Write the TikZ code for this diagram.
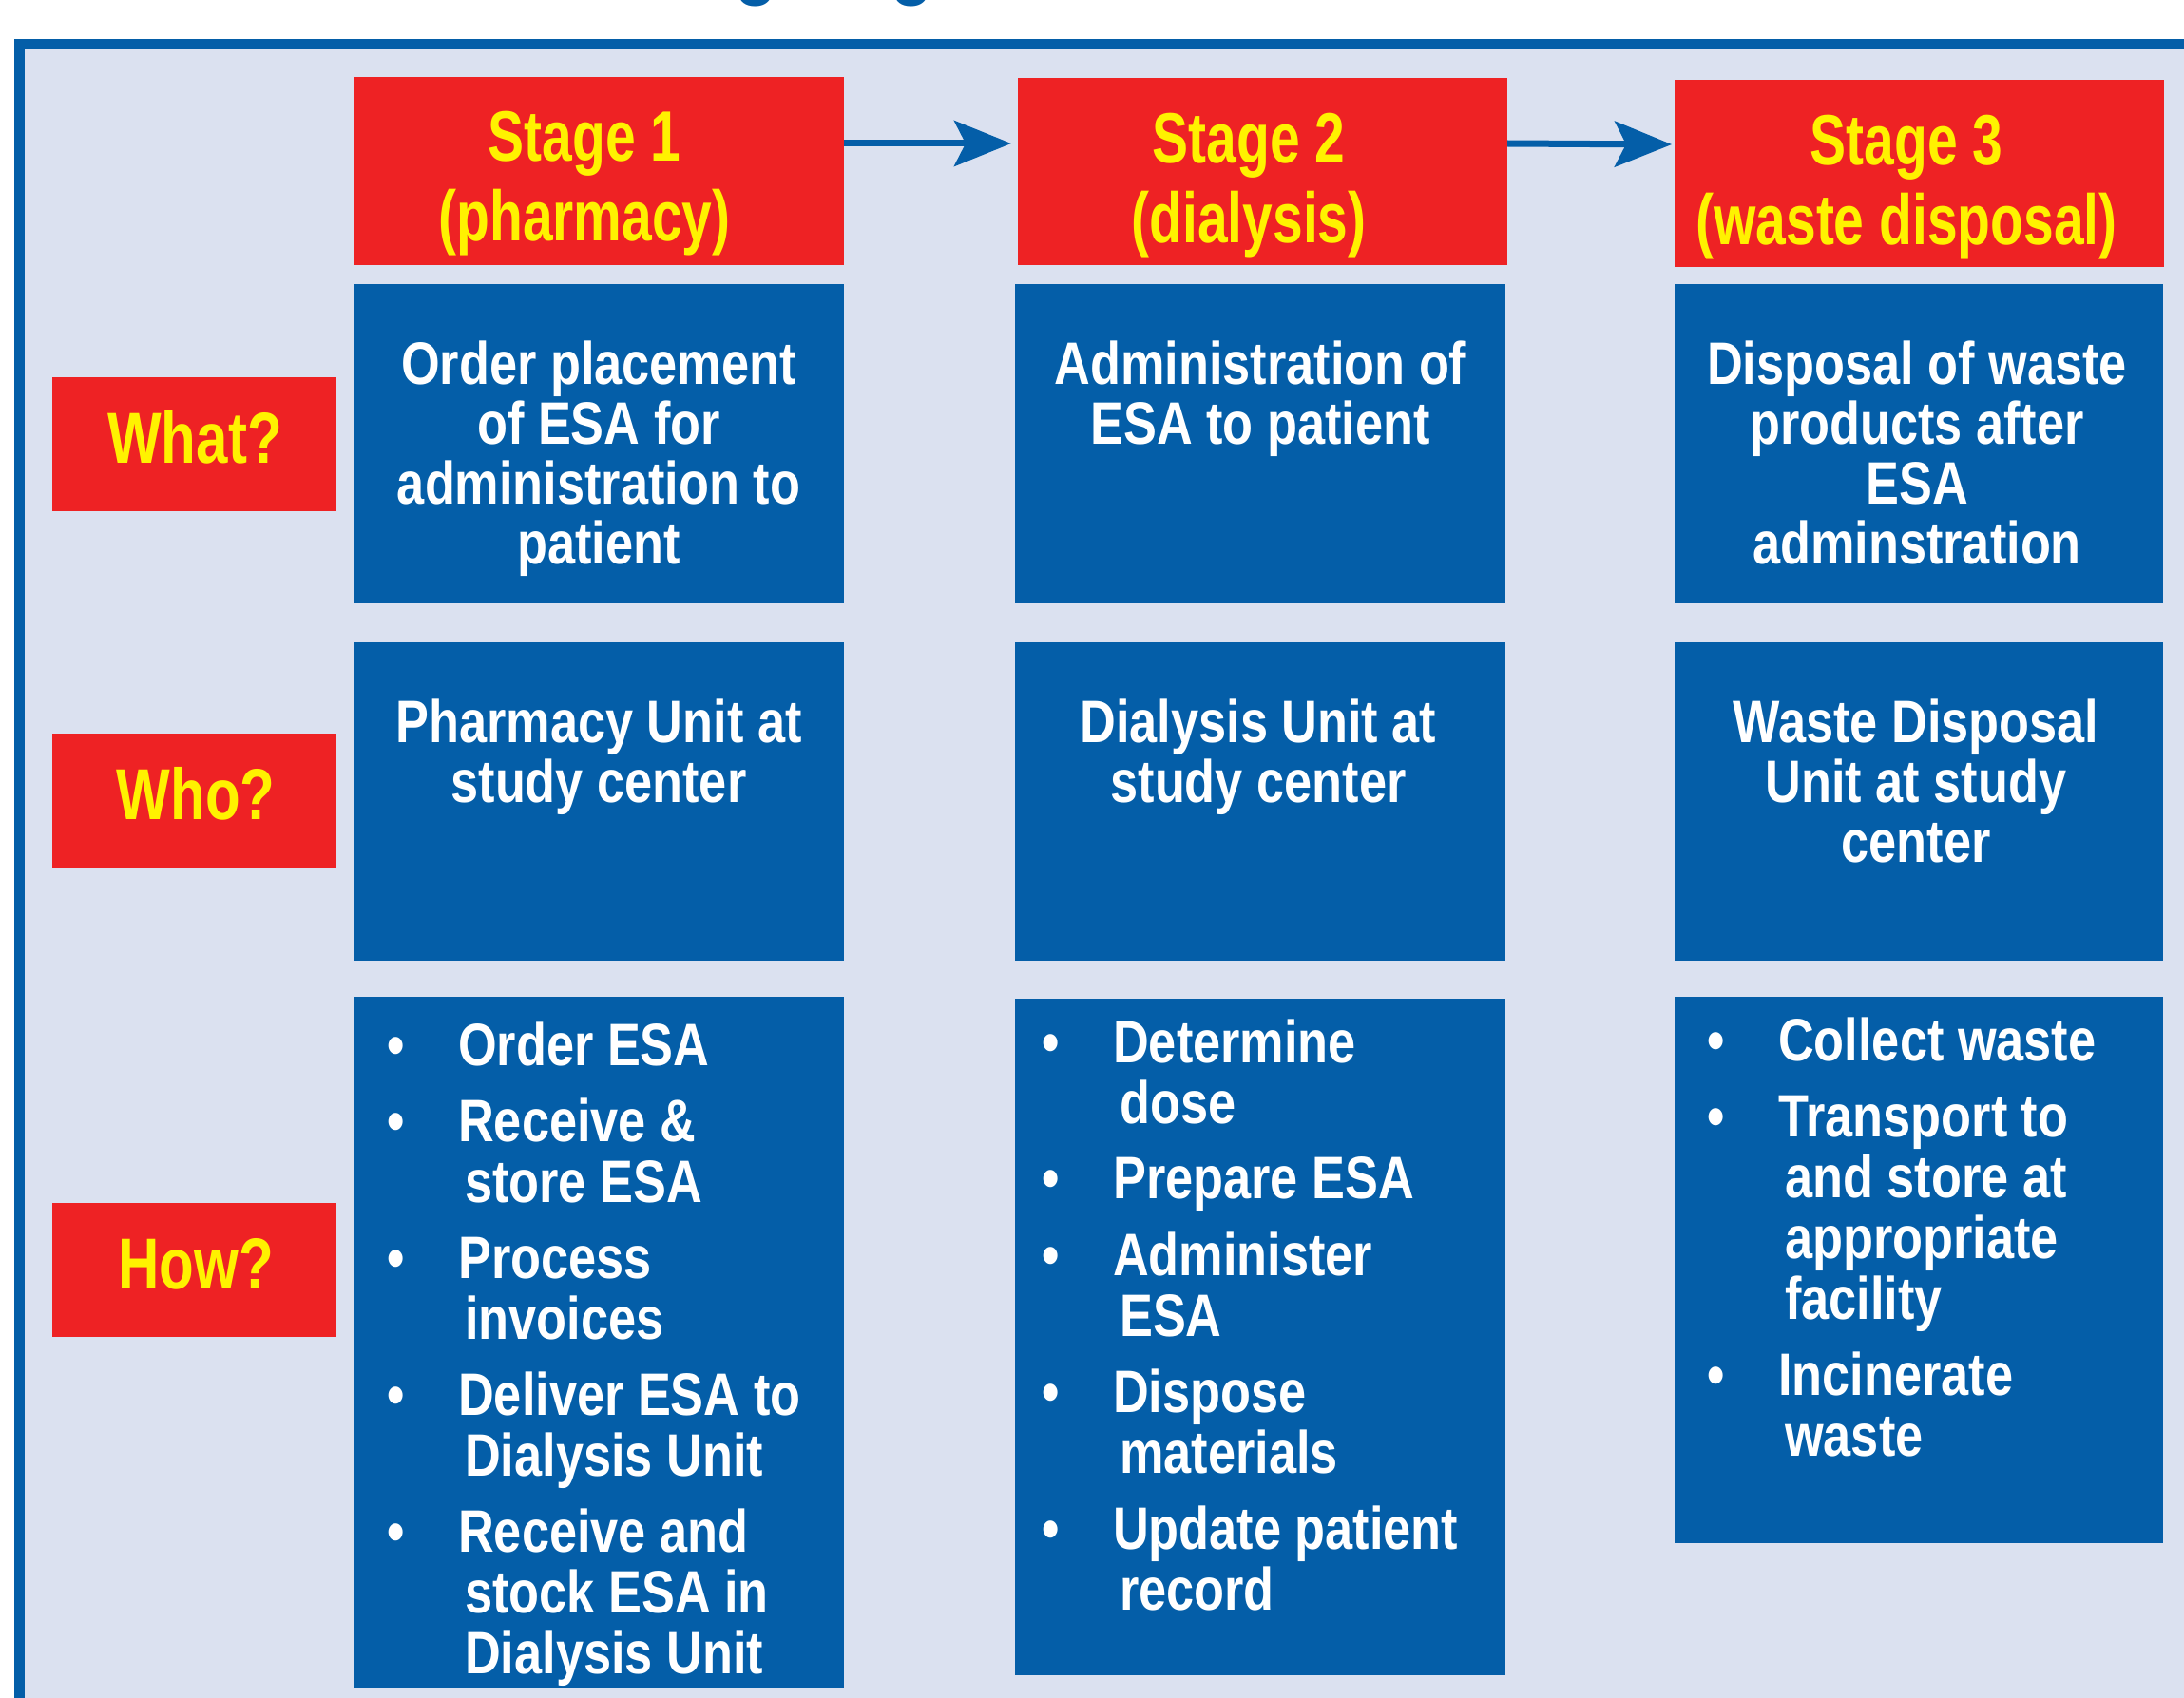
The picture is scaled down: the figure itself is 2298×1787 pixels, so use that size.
\documentclass[tikz,border=0pt]{standalone}
\usepackage{fontspec}
\setmainfont{Liberation Sans}
\newfontfamily\stagef{Liberation Sans}[FakeStretch=0.76]
\newfontfamily\labf{Liberation Sans}[FakeStretch=0.79]
\newfontfamily\bodyf{Liberation Sans}[FakeStretch=0.83]
\usetikzlibrary{arrows.meta}
\definecolor{fblue}{RGB}{4,94,168}
\definecolor{fred}{RGB}{238,34,36}
\definecolor{fyel}{RGB}{255,242,0}
\definecolor{flav}{RGB}{219,225,240}
\newcommand\itmb{\makebox[75pt][l]{•}}
\newcommand\itmc{\hspace*{82pt}}
\newcommand\frst{\rule{0pt}{50pt}}
\begin{document}
\begin{tikzpicture}[x=1pt,y=-1pt,
 redbox/.style={fill=fred, inner sep=0pt, outer sep=0pt, anchor=north west},
 bluebox/.style={fill=fblue, inner sep=0pt, outer sep=0pt, anchor=north west},
 stagetxt/.style={text=fyel, inner sep=0pt, anchor=north, align=center, font=\stagef\bfseries\fontsize{75}{84}\selectfont},
 labtxt/.style={text=fyel, inner sep=0pt, anchor=base, font=\labf\bfseries\fontsize{76}{76}\selectfont},
 bodytxt/.style={text=white, inner sep=0pt, anchor=north, align=center, font=\bodyf\bfseries\fontsize{63}{63}\selectfont},
 listtxt/.style={text=white, inner sep=0pt, anchor=north west, align=left, font=\bodyf\bfseries\fontsize{63}{64}\selectfont},
 flow/.style={draw=fblue, line width=7pt, -{Stealth[length=60pt,width=48pt,inset=12pt]}}
]
\useasboundingbox (0,0) rectangle (2298,1787);
\fill[white] (0,0) rectangle (2298,1787);
\fill[fblue] (15,41) rectangle (2298,1787);
\fill[flav] (26,52) rectangle (2298,1787);

% cut-off title fragments
\node[text=fblue, inner sep=0pt, anchor=base, font=\bodyf\bfseries\fontsize{92}{92}\selectfont] (tg1) at (796,-12) {g};
\node[text=fblue, inner sep=0pt, anchor=base, font=\bodyf\bfseries\fontsize{92}{92}\selectfont] (tg2) at (960,-12) {g};

% stage headers
\node[redbox, minimum width=516pt, minimum height=198pt] (s1) at (372,81) {};
\node[redbox, minimum width=515pt, minimum height=197pt] (s2) at (1071,82) {};
\node[redbox, minimum width=515pt, minimum height=197pt] (s3) at (1762,84) {};
\node[stagetxt] (s1t) at (615,109) {\rule{0pt}{60pt}Stage 1\\(pharmacy)};
\node[stagetxt] (s2t) at (1314,111) {\rule{0pt}{60pt}Stage 2\\(dialysis)};
\node[stagetxt] (s3t) at (2006,113) {\rule{0pt}{60pt}Stage 3\\(waste disposal)};

\draw[flow] ([yshift=29pt]s1.east) -- ([xshift=-7pt,yshift=29.5pt]s2.west);
\draw[flow] ([yshift=29.5pt]s2.east) -- ([xshift=-3pt,yshift=30.5pt]s3.west);

% row labels
\node[redbox, minimum width=299pt, minimum height=141pt] (lw) at (55,397) {};
\node[redbox, minimum width=299pt, minimum height=141pt] (lo) at (55,772) {};
\node[redbox, minimum width=299pt, minimum height=141pt] (lh) at (55,1266) {};
\node[labtxt] (lwt) at (205,487) {What?};
\node[labtxt] (lot) at (206,862) {Who?};
\node[labtxt] (lht) at (206,1356) {How?};

% What row
\node[bluebox, minimum width=516pt, minimum height=336pt] (w1) at (372,299) {};
\node[bluebox, minimum width=516pt, minimum height=336pt] (w2) at (1068,299) {};
\node[bluebox, minimum width=514pt, minimum height=336pt] (w3) at (1762,299) {};
\node[bodytxt] (w1t) at (630,354) {\frst Order placement\\of ESA for\\administration to\\patient};
\node[bodytxt] (w2t) at (1326,354) {\frst Administration of\\ESA to patient};
\node[bodytxt] (w3t) at (2017,354) {\frst Disposal of waste\\products after\\ESA\\adminstration};

% Who row
\node[bluebox, minimum width=516pt, minimum height=335pt] (o1) at (372,676) {};
\node[bluebox, minimum width=516pt, minimum height=335pt] (o2) at (1068,676) {};
\node[bluebox, minimum width=514pt, minimum height=335pt] (o3) at (1762,676) {};
\node[bodytxt] (o1t) at (630,731) {\frst Pharmacy Unit at\\study center};
\node[bodytxt] (o2t) at (1324,731) {\frst Dialysis Unit at\\study center};
\node[bodytxt] (o3t) at (2016,731) {\frst Waste Disposal\\Unit at study\\center};

% How row
\node[bluebox, minimum width=516pt, minimum height=727pt] (h1) at (372,1049) {};
\node[bluebox, minimum width=516pt, minimum height=712pt] (h2) at (1068,1051) {};
\node[bluebox, minimum width=514pt, minimum height=575pt] (h3) at (1762,1049) {};
\node[listtxt] (h1t) at (407,1071) {\frst\itmb Order ESA\\[16pt]
 \itmb Receive \&\\ \itmc store ESA\\[16pt]
 \itmb Process\\ \itmc invoices\\[16pt]
 \itmb Deliver ESA to\\ \itmc Dialysis Unit\\[16pt]
 \itmb Receive and\\ \itmc stock ESA in\\ \itmc Dialysis Unit};
\node[listtxt] (h2t) at (1096,1068) {\frst\itmb Determine\\ \itmc dose\\[15pt]
 \itmb Prepare ESA\\[17pt]
 \itmb Administer\\ \itmc ESA\\[16pt]
 \itmb Dispose\\ \itmc materials\\[16pt]
 \itmb Update patient\\ \itmc record};
\node[listtxt] (h3t) at (1796,1066) {\frst\itmb Collect waste\\[16pt]
 \itmb Transport to\\ \itmc and store at\\ \itmc appropriate\\ \itmc facility\\[16pt]
 \itmb Incinerate\\ \itmc waste};
\end{tikzpicture}
\end{document}
